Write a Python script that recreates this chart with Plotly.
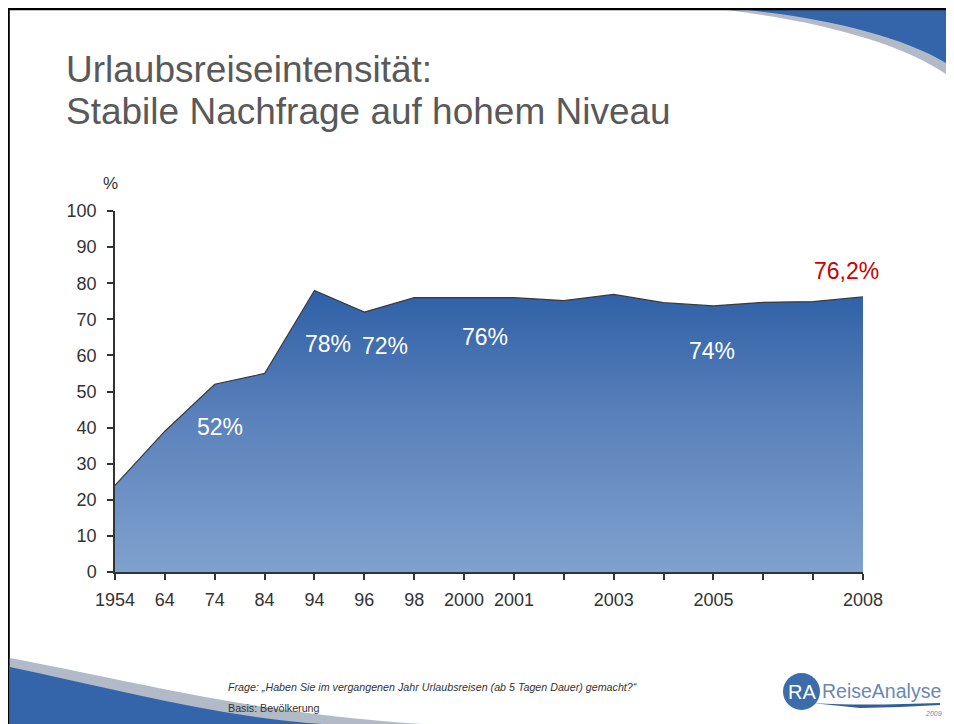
import plotly.graph_objects as go

# ---- data ----
years = ["1954", "64", "74", "84", "94", "96", "98", "2000", "2001", "2002",
         "2003", "2004", "2005", "2006", "2007", "2008"]
tick_labels = ["1954", "64", "74", "84", "94", "96", "98", "2000", "2001", "",
               "2003", "", "2005", "", "", "2008"]
intensity = [24.0, 39.0, 52.0, 55.0, 78.0, 72.0, 76.0, 76.0, 76.0, 75.2,
             76.9, 74.6, 73.7, 74.7, 74.9, 76.2]
label_texts = ["52%", "78%", "72%", "76%", "74%"]
label_x = [2.1, 4.27, 5.41, 7.42, 11.97]
label_y = [40.2, 63.2, 62.6, 65.1, 61.2]

# page has an 8px body margin: figure pixel = screen pixel - 8
OFF = 8
W, H = 954 - OFF, 724 - OFF
L, R, T, B = 115, 863, 211, 572  # screen pixels of plot area


def xp(px):
    return (px - L) / (R - L)


def yp(py):
    return (B - py) / (B - T)


def cpath(start, curves, tail):
    s = f"M {xp(start[0]):.5f},{yp(start[1]):.5f}"
    for c in curves:
        s += " C " + " ".join(f"{xp(x):.5f},{yp(y):.5f}" for x, y in c)
    for x, y in tail:
        s += f" L {xp(x):.5f},{yp(y):.5f}"
    return s + " Z"


idx = list(range(len(years)))

fig = go.Figure()
fig.add_trace(go.Scatter(
    x=idx, y=intensity, mode="lines", fill="tozeroy",
    line=dict(color="#3a3a3a", width=1.2),
    fillgradient=dict(type="vertical",
                      colorscale=[[0, "#7fa1cd"], [0.55, "#5a81bb"], [1, "#2f60a6"]],
                      start=0, stop=78),
    hoverinfo="skip", showlegend=False,
))

FONT = "Arial, Liberation Sans, sans-serif"


def ann(px, py, text, size, color, xanchor="center", yanchor="middle"):
    return dict(x=xp(px), y=yp(py), xref="paper", yref="paper", text=text,
                showarrow=False, xanchor=xanchor, yanchor=yanchor,
                font=dict(family=FONT, size=size, color=color))


annotations = []
for t, x, y in zip(label_texts, label_x, label_y):
    annotations.append(dict(x=x, y=y, xref="x", yref="y", text=t, showarrow=False,
                            xanchor="center", yanchor="middle",
                            font=dict(family=FONT, size=23, color="white")))
annotations.append(dict(x=14.66, y=83.4, xref="x", yref="y", text="76,2%", showarrow=False,
                        xanchor="center", yanchor="middle",
                        font=dict(family=FONT, size=23, color="#cc0000")))
annotations.append(ann(110, 183, "%", 17, "#333333"))
annotations.append(ann(64, 70, "Urlaubsreiseintensität:", 37, "#595959", xanchor="left"))
annotations.append(ann(64, 112, "Stabile Nachfrage auf hohem Niveau", 37, "#595959", xanchor="left"))
annotations.append(ann(226, 687,
                       "<i>Frage: „Haben Sie im vergangenen Jahr Urlaubsreisen (ab 5 Tagen Dauer) gemacht?“</i>",
                       10.7, "#333333", xanchor="left"))
annotations.append(ann(226, 708, "Basis: Bevölkerung", 10.7, "#333333", xanchor="left"))
# logo texts
annotations.append(ann(802, 692, "RA", 20, "white"))
annotations.append(ann(820, 691, "ReiseAnalyse", 19.5, "#6b87b3", xanchor="left"))
annotations.append(ann(944, 713, "<i>2009</i>", 7, "#6b87b3", xanchor="right"))

shapes = []
# top-right swoosh
shapes.append(dict(type="path", xref="paper", yref="paper", layer="above",
                   path=cpath((716, 9), [[(820, 20), (910, 45), (954, 80)]], [(954, 9)]),
                   fillcolor="#b2bac8", line=dict(width=0)))
shapes.append(dict(type="path", xref="paper", yref="paper", layer="above",
                   path=cpath((738, 9), [[(830, 18), (910, 38), (954, 68)]], [(954, 9)]),
                   fillcolor="#3464aa", line=dict(width=0)))
# black slide border (top, left)
shapes.append(dict(type="line", xref="paper", yref="paper", x0=xp(7), y0=yp(8.8), x1=xp(954), y1=yp(8.8),
                   line=dict(color="black", width=3), layer="above"))
shapes.append(dict(type="line", xref="paper", yref="paper", x0=xp(8.3), y0=yp(8), x1=xp(8.3), y1=yp(724),
                   line=dict(color="black", width=3), layer="above"))
# bottom-left swoosh
shapes.append(dict(type="path", xref="paper", yref="paper", layer="above",
                   path=cpath((9.8, 658), [[(120, 678), (250, 714), (430, 724.5)]], [(9.8, 724.5)]),
                   fillcolor="#b2bac8", line=dict(width=0)))
shapes.append(dict(type="path", xref="paper", yref="paper", layer="above",
                   path=cpath((9.8, 667), [[(120, 690), (220, 718), (330, 724.5)]], [(9.8, 724.5)]),
                   fillcolor="#3464aa", line=dict(width=0)))
# logo circle and underline
shapes.append(dict(type="circle", xref="paper", yref="paper", layer="below",
                   x0=xp(783), x1=xp(820), y0=yp(710), y1=yp(673),
                   fillcolor="#3d6cab", line=dict(width=0)))
shapes.append(dict(type="path", xref="paper", yref="paper", layer="below",
                   path=cpath((812, 703), [[(860, 706), (900, 704), (940, 703)]],
                              [(940, 705), (900, 707), (860, 708)]),
                   fillcolor="#2f5d9e", line=dict(width=0)))

fig.update_layout(
    width=W, height=H,
    margin=dict(l=L - OFF, r=954 - R, t=T - OFF, b=724 - B),
    paper_bgcolor="white", plot_bgcolor="white",
    showlegend=False,
    annotations=annotations,
    shapes=shapes,
    xaxis=dict(range=[0, 15], tickvals=idx, ticktext=tick_labels, showgrid=False,
               zeroline=False, showline=True, linecolor="#333333", linewidth=1.5,
               ticks="outside", ticklen=6, tickcolor="#333333", tickwidth=1.5,
               ticklabelstandoff=5,
               tickfont=dict(family=FONT, size=18, color="#333333")),
    yaxis=dict(range=[0, 100], dtick=10, showgrid=False, zeroline=False,
               showline=True, linecolor="#333333", linewidth=1.5,
               ticks="outside", ticklen=6, tickcolor="#333333", tickwidth=1.5,
               ticklabelstandoff=7,
               tickfont=dict(family=FONT, size=18, color="#333333")),
)

fig.write_html("out.html")
